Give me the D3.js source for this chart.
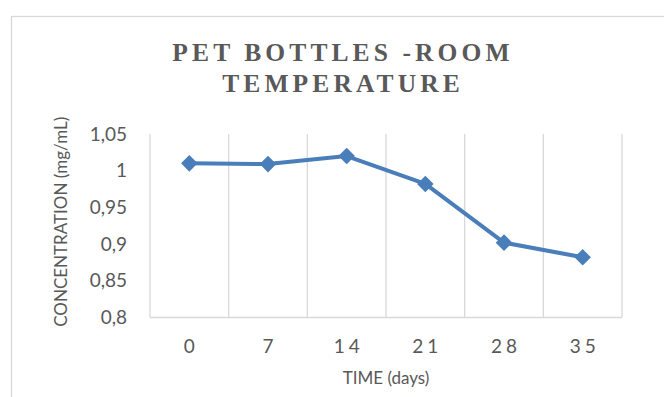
<!DOCTYPE html>
<html>
<head>
<meta charset="utf-8">
<script src="https://cdn.jsdelivr.net/npm/d3@7"></script>
<style>
  html, body { margin: 0; padding: 0; background: #ffffff; }
  svg { display: block; }
</style>
</head>
<body>
<svg id="chart" width="664" height="397"></svg>
<script>
// Sampling days and measured concentration (mg/mL)
const days = ["0", "7", "14", "21", "28", "35"];
const concentration = [1.010, 1.009, 1.020, 0.982, 0.902, 0.882];
const yTicks = [0.8, 0.85, 0.9, 0.95, 1, 1.05];
const titleLines = ["PET BOTTLES -ROOM", "TEMPERATURE"];

const svg = d3.select("#chart");
const W = 664, H = 397;
const plot = { left: 150, right: 622, top: 134, bottom: 317.5 };
const textColor = "#595959";
const gridColor = "#d9d9d9";
const lineColor = "#4a7ebb";

// Chart frame (runs off the right and bottom edges)
svg.append("rect")
  .attr("x", 11.5).attr("y", 16.5)
  .attr("width", W + 20).attr("height", H + 20)
  .attr("fill", "#fff")
  .attr("stroke", gridColor).attr("stroke-width", 1.3);

// Title
const title = svg.append("text")
  .attr("text-anchor", "middle")
  .attr("font-family", "'Liberation Serif', 'Times New Roman', serif")
  .attr("font-weight", "bold")
  .attr("font-size", 25.5)
  .attr("letter-spacing", 4.1)
  .attr("fill", textColor);
title.selectAll("tspan").data(titleLines).join("tspan")
  .attr("x", 343)
  .attr("y", (d, i) => 61 + i * 31)
  .text(d => d);

const x = d3.scaleBand().domain(days).range([plot.left, plot.right]);
const y = d3.scaleLinear().domain([0.8, 1.05]).range([plot.bottom, plot.top]);

// Vertical gridlines on category boundaries
const bounds = days.map(d => x(d)).concat([plot.right]);
svg.append("g").selectAll("line").data(bounds).join("line")
  .attr("x1", d => d).attr("x2", d => d)
  .attr("y1", plot.top).attr("y2", plot.bottom)
  .attr("stroke", gridColor).attr("stroke-width", 1.3);

// X axis
const xAxis = svg.append("g")
  .attr("transform", `translate(0,${plot.bottom})`)
  .call(d3.axisBottom(x).tickSize(0).tickPadding(22));
xAxis.select(".domain").attr("stroke", gridColor).attr("stroke-width", 1.3)
  .attr("d", `M${plot.left},0H${plot.right}`);
xAxis.selectAll("text")
  .attr("font-family", "Lato, 'Open Sans', sans-serif")
  .attr("font-size", 19)
  .attr("letter-spacing", 4)
  .attr("dx", 2)
  .attr("fill", textColor);

// Y axis (labels only, with comma decimals)
const fmt = v => String(+v.toFixed(2)).replace(".", ",");
const yAxis = svg.append("g")
  .attr("transform", `translate(${plot.left},0)`)
  .call(d3.axisLeft(y).tickValues(yTicks).tickFormat(fmt).tickSize(0).tickPadding(23));
yAxis.select(".domain").remove();
yAxis.selectAll("text")
  .attr("font-family", "Lato, 'Open Sans', sans-serif")
  .attr("font-size", 19)
  .attr("fill", textColor);

// Axis titles
svg.append("text")
  .attr("x", (plot.left + plot.right) / 2)
  .attr("y", 384)
  .attr("text-anchor", "middle")
  .attr("font-family", "Lato, 'Open Sans', sans-serif")
  .attr("font-size", 17)
  .attr("fill", textColor)
  .text("TIME (days)");

svg.append("text")
  .attr("transform", `translate(67,${(plot.top + plot.bottom) / 2 - 4}) rotate(-90)`)
  .attr("text-anchor", "middle")
  .attr("font-family", "Lato, 'Open Sans', sans-serif")
  .attr("font-size", 17)
  .attr("fill", textColor)
  .text("CONCENTRATION (mg/mL)");

// Series line and diamond markers
const pts = days.map((d, i) => [x(d) + x.bandwidth() / 2, y(concentration[i])]);
svg.append("path")
  .attr("d", d3.line()(pts))
  .attr("fill", "none")
  .attr("stroke", lineColor)
  .attr("stroke-width", 4)
  .attr("stroke-linejoin", "round");

const diamond = d3.symbol().type(d3.symbolDiamond2).size(175);
svg.append("g").selectAll("path").data(pts).join("path")
  .attr("transform", d => `translate(${d[0]},${d[1]})`)
  .attr("d", diamond)
  .attr("fill", lineColor);
</script>
</body>
</html>
